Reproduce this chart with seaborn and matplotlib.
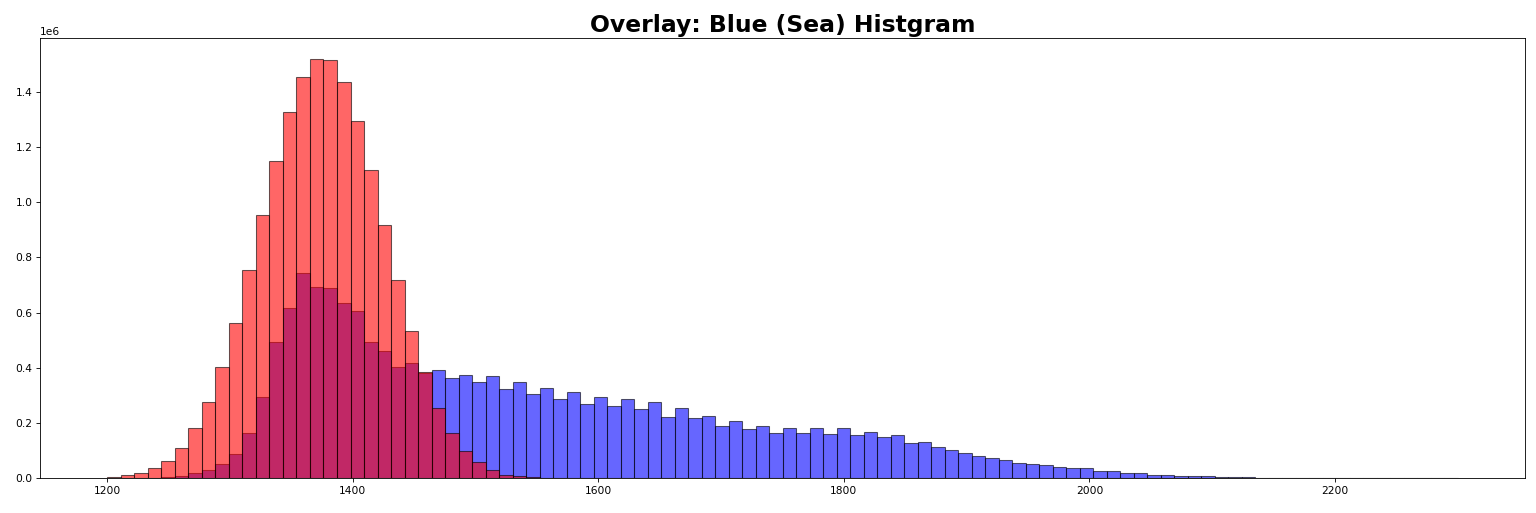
"""
Overlay histogram: blue (sea) vs red, shared bins 1200-2300
"""

import numpy as np
import pandas as pd
import matplotlib
matplotlib.use("Agg")
import matplotlib.pyplot as plt
import seaborn as sns

# ========== data (counts per bin) ==========
BIN_START = 1200
BIN_STOP = 2300
N_BINS = 100

# red series, bins 0..34 (rest are empty)
red_counts = [
    4000, 10000, 17000, 35000, 63000, 110000, 180000, 276000, 403000, 564000,
    754000, 955000, 1151000, 1328000, 1453000, 1520000, 1515000, 1435000, 1296000, 1117000,
    917000, 717000, 534000, 383000, 254000, 163000, 99000, 57000, 30000, 13000,
    7000, 2500, 800, 300, 100,
]

# blue (sea) series, all 100 bins
blue_counts = [
    500, 800, 1200, 1500, 2500, 7000, 17000, 31000, 52000, 88000,
    163000, 294000, 492000, 617000, 743000, 693000, 691000, 635000, 606000, 495000,
    462000, 403000, 416000, 380000, 391000, 363000, 374000, 347000, 371000, 324000,
    347000, 305000, 327000, 286000, 311000, 270000, 295000, 261000, 288000, 249000,
    275000, 223000, 254000, 217000, 227000, 190000, 206000, 177000, 189000, 163000,
    181000, 163000, 181000, 161000, 181000, 158000, 169000, 149000, 155000, 127000,
    131000, 113000, 103000, 90000, 80000, 73000, 64000, 56000, 51000, 46000,
    42000, 36000, 36000, 25000, 25000, 17000, 17000, 11000, 12000, 8500,
    8500, 6000, 3600, 3600, 2400, 1800, 1500, 1200, 1000, 800,
    600, 500, 400, 300, 250, 200, 150, 100, 60, 30,
]

title_text = "Overlay: Blue (Sea) Histgram"
# ===================================================================

edges = np.linspace(BIN_START, BIN_STOP, N_BINS + 1)
centers = (edges[:-1] + edges[1:]) / 2
red_full = np.zeros(N_BINS)
red_full[:len(red_counts)] = red_counts

df = pd.DataFrame({
    "value": centers,
    "blue": np.array(blue_counts, dtype=float),
    "red": red_full,
})

fig, ax = plt.subplots(figsize=(20, 6.68), dpi=76.8)
fig.subplots_adjust(left=0.026, right=0.993, top=0.926, bottom=0.068)

# blue first, red drawn on top; edges get the same transparency
edge_col = (0, 0, 0, 0.6)
sns.histplot(data=df, x="value", weights="blue", bins=list(edges), color="blue",
             alpha=0.6, edgecolor=edge_col, linewidth=1, ax=ax)
sns.histplot(data=df, x="value", weights="red", bins=list(edges), color="red",
             alpha=0.6, edgecolor=edge_col, linewidth=1, ax=ax)

ax.set_xlabel("")
ax.set_ylabel("")
ax.set_title(title_text, fontsize=22, fontweight="bold")

plt.savefig("out.png", dpi=76.8)
plt.close()
